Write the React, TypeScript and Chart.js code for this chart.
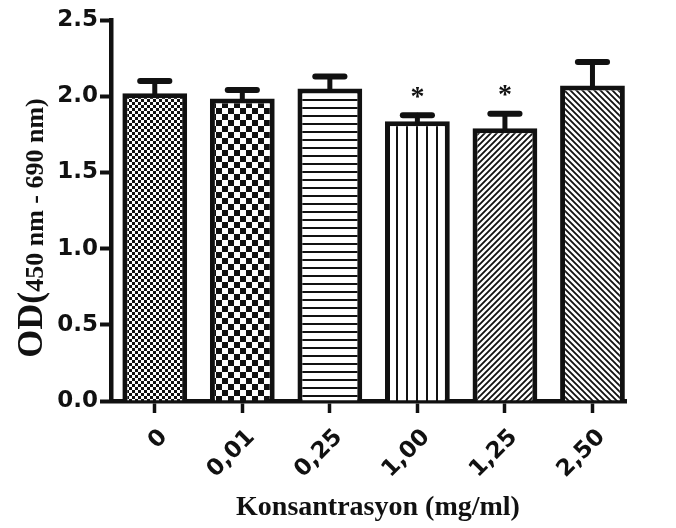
import { useEffect, useRef } from "react";
import { Chart, registerables } from "chart.js";

Chart.register(...registerables);

// Concentrations (mg/ml) on the x axis
const categories = ["0", "0,01", "0,25", "1,00", "1,25", "2,50"];
// Mean optical density for each concentration
const means = [2.02, 1.985, 2.05, 1.835, 1.79, 2.07];
// Upper error (SEM) for each bar
const errors = [0.08, 0.055, 0.08, 0.04, 0.095, 0.155];
// Significance markers printed above the error bars
const significance = ["", "", "", "*", "*", ""];
// Fill style of each bar
const fills = ["fineCheck", "coarseCheck", "hLines", "vLines", "diagUp", "diagDown"];
// Y axis ticks
const yTicks = [0, 0.5, 1.0, 1.5, 2.0, 2.5];

const INK = "#111111";
const TICK_FONT = '"DejaVu Sans", sans-serif';
const TITLE_FONT = '"Liberation Serif", "Times New Roman", serif';

function makePattern(kind: string): CanvasPattern | string {
  const c = document.createElement("canvas");
  const ctx = c.getContext("2d");
  if (!ctx) return "#fff";
  const size = { fineCheck: 6, coarseCheck: 12, hLines: 8, vLines: 10, diagUp: 6, diagDown: 6 }[kind] || 8;
  c.width = size;
  c.height = size;
  ctx.fillStyle = "#ffffff";
  ctx.fillRect(0, 0, size, size);
  ctx.fillStyle = INK;
  ctx.strokeStyle = INK;
  const h = size / 2;
  switch (kind) {
    case "fineCheck":
    case "coarseCheck":
      ctx.fillRect(0, 0, h, h);
      ctx.fillRect(h, h, h, h);
      break;
    case "hLines":
      ctx.fillRect(0, 3, size, 2);
      break;
    case "vLines":
      ctx.fillRect(6, 0, 2, size);
      break;
    case "diagUp":
      ctx.lineWidth = 1.8;
      ctx.beginPath();
      ctx.moveTo(-1, size + 1);
      ctx.lineTo(size + 1, -1);
      ctx.moveTo(-1, 1);
      ctx.lineTo(1, -1);
      ctx.moveTo(size - 1, size + 1);
      ctx.lineTo(size + 1, size - 1);
      ctx.stroke();
      break;
    case "diagDown":
      ctx.lineWidth = 1.8;
      ctx.beginPath();
      ctx.moveTo(-1, -1);
      ctx.lineTo(size + 1, size + 1);
      ctx.moveTo(size - 1, -1);
      ctx.lineTo(size + 1, 1);
      ctx.moveTo(-1, size - 1);
      ctx.lineTo(1, size + 1);
      ctx.stroke();
      break;
  }
  return ctx.createPattern(c, "repeat") || "#fff";
}

// Upper error bars with caps, plus significance stars
const errorBarPlugin = {
  id: "errorBars",
  afterDatasetsDraw(chart: any) {
    const { ctx } = chart;
    const y = chart.scales.y;
    const meta = chart.getDatasetMeta(0);
    ctx.save();
    ctx.strokeStyle = INK;
    ctx.fillStyle = INK;
    ctx.lineCap = "round";
    meta.data.forEach((bar: any, i: number) => {
      const base = y.getPixelForValue(means[i]);
      const top = y.getPixelForValue(means[i] + errors[i]);
      ctx.lineWidth = 5;
      ctx.beginPath();
      ctx.moveTo(bar.x, base);
      ctx.lineTo(bar.x, top);
      ctx.stroke();
      const half = bar.width * 0.225;
      ctx.lineWidth = 6;
      ctx.beginPath();
      ctx.moveTo(bar.x - half, top);
      ctx.lineTo(bar.x + half, top);
      ctx.stroke();
      if (significance[i]) {
        ctx.font = `bold 28px ${TITLE_FONT}`;
        ctx.textAlign = "center";
        ctx.textBaseline = "alphabetic";
        const m = ctx.measureText(significance[i]);
        const mid = (m.actualBoundingBoxAscent - m.actualBoundingBoxDescent) / 2;
        ctx.fillText(significance[i], bar.x, top - 23 + mid);
      }
    });
    ctx.restore();
  },
};

// Axis titles: the y title mixes a main part and a subscript
const axisTitlePlugin = {
  id: "axisTitles",
  afterDraw(chart: any) {
    const { ctx } = chart;
    ctx.save();
    ctx.fillStyle = INK;
    ctx.textBaseline = "alphabetic";

    ctx.font = `bold 28px ${TITLE_FONT}`;
    ctx.textAlign = "center";
    ctx.fillText("Konsantrasyon (mg/ml)", 378, 515);

    const main = "OD(";
    const sub = "450 nm - 690 nm)";
    const mainFont = `bold 36px ${TITLE_FONT}`;
    const subFont = `bold 26px ${TITLE_FONT}`;
    ctx.font = mainFont;
    const wMain = ctx.measureText(main).width;
    ctx.font = subFont;
    const wSub = ctx.measureText(sub).width;
    const total = wMain + wSub;
    ctx.translate(42, 228 + total / 2);
    ctx.rotate(-Math.PI / 2);
    ctx.textAlign = "left";
    ctx.font = mainFont;
    ctx.fillText(main, 0, 0);
    ctx.font = subFont;
    ctx.fillText(sub, wMain, 1);
    ctx.restore();
  },
};

export default function App() {
  const canvasRef = useRef<HTMLCanvasElement | null>(null);

  useEffect(() => {
    const canvas = canvasRef.current;
    if (!canvas) return;
    const chart = new Chart(canvas, {
      type: "bar",
      data: {
        datasets: [
          {
            data: means.map((v, i) => ({ x: i, y: v })),
            backgroundColor: fills.map((f) => makePattern(f)) as any,
            borderColor: INK,
            borderWidth: 5,
            borderSkipped: "start",
            barPercentage: 0.74,
            categoryPercentage: 1,
          },
        ],
      },
      options: {
        responsive: false,
        animation: false,
        devicePixelRatio: 1,
        layout: { padding: { top: 20, right: 50, bottom: 0, left: 0 } },
        plugins: {
          legend: { display: false },
          tooltip: { enabled: false },
        },
        scales: {
          x: {
            type: "linear",
            offset: false,
            min: -0.5,
            max: 5.383,
            z: 1,
            afterBuildTicks: (scale: any) => {
              scale.ticks = categories.map((_, i) => ({ value: i }));
            },
            afterFit: (scale: any) => {
              scale.height = 127;
            },
            grid: {
              offset: false,
              drawOnChartArea: false,
              drawTicks: true,
              tickLength: 12,
              tickWidth: 3.5,
              tickColor: INK,
            },
            border: { display: true, color: INK, width: 4.5 },
            ticks: {
              autoSkip: false,
              minRotation: 45,
              maxRotation: 45,
              padding: 11,
              labelOffset: 9,
              color: INK,
              font: { family: TICK_FONT, size: 23, weight: "bold" },
              callback: (v: any) => categories[Math.round(Number(v))] ?? "",
            },
          },
          y: {
            min: 0,
            max: 2.5,
            afterBuildTicks: (scale: any) => {
              scale.ticks = yTicks.map((v) => ({ value: v }));
            },
            afterFit: (scale: any) => {
              scale.width = 111;
            },
            grid: {
              drawOnChartArea: false,
              drawTicks: true,
              tickLength: 11,
              tickWidth: 4,
              tickColor: INK,
            },
            border: { display: true, color: INK, width: 4.5 },
            ticks: {
              padding: 2,
              color: INK,
              font: { family: TICK_FONT, size: 23, weight: "bold" },
              callback: (v: any) => Number(v).toFixed(1),
            },
          },
        },
      },
      plugins: [errorBarPlugin, axisTitlePlugin],
    });
    return () => chart.destroy();
  }, []);

  return (
    <div style={{ position: "absolute", left: 0, top: 0, width: 676, height: 528, background: "#fff" }}>
      <canvas ref={canvasRef} width={676} height={528} />
    </div>
  );
}
